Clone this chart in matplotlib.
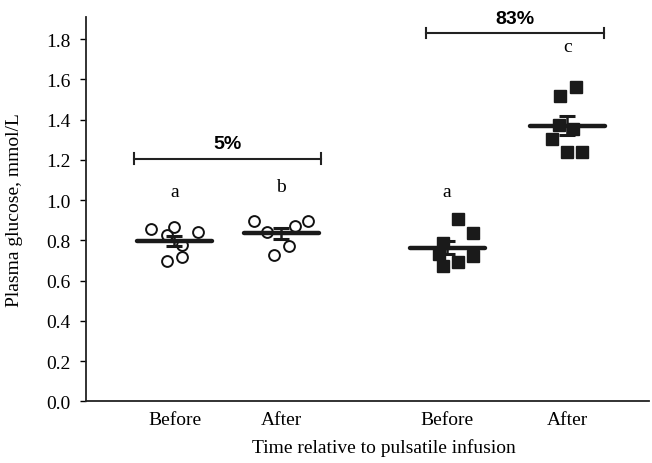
import numpy as np
import matplotlib.pyplot as plt

# plasma glucose (mmol/L) per animal, before/after pulsatile infusion
ctrl_before = [0.856, 0.866, 0.826, 0.841, 0.776, 0.697, 0.717]
ctrl_after = [0.894, 0.844, 0.869, 0.897, 0.773, 0.728]
glc_before = [0.905, 0.835, 0.785, 0.730, 0.720, 0.690, 0.675]
glc_after = [1.563, 1.518, 1.375, 1.355, 1.302, 1.240, 1.240]

groups = [ctrl_before, ctrl_after, glc_before, glc_after]
sems = [0.023, 0.026, 0.033, 0.048]
letters = ['a', 'b', 'a', 'c']
tick_labels = ['Before', 'After', 'Before', 'After']
pct_labels = ['5%', '83%']

# layout (x in axis units)
centers = [0.943, 2.08, 3.85, 5.13]
jitter = [
    [-0.25, 0.0, -0.08, 0.25, 0.08, -0.08, 0.08],
    [-0.29, -0.15, 0.15, 0.29, 0.08, -0.08],
    [0.12, 0.28, -0.04, -0.09, 0.28, 0.12, -0.04],
    [0.09, -0.08, -0.09, 0.06, -0.16, 0.0, 0.16],
]
letter_y = [1.045, 1.07, 1.045, 1.766]
brackets = [(0.51, 2.51, 1.207), (3.62, 5.52, 1.83)]

plt.rcParams['font.family'] = 'Liberation Serif'

fig = plt.figure(figsize=(6.52, 4.64), dpi=100)
ax = fig.add_axes([0.132, 0.133, 0.863, 0.828])

for i, (vals, c, jit) in enumerate(zip(groups, centers, jitter)):
    vals = np.array(vals)
    m = vals.mean()
    xs = c + np.array(jit)
    if i < 2:
        ax.plot(xs, vals, 'o', ms=7.8, mfc='none', mec='#111111', mew=1.4, zorder=3)
    else:
        ax.plot(xs, vals, 's', ms=8, mfc='#1a1a1a', mec='#1a1a1a', zorder=3)
    ax.plot([c - 0.40, c + 0.40], [m, m], color='#1a1a1a', lw=3.2,
            solid_capstyle='round', zorder=4)
    ax.errorbar(c, m, yerr=sems[i], color='#1a1a1a', elinewidth=1.8,
                capsize=6, capthick=2.2, zorder=4)
    ax.text(c, letter_y[i], letters[i], ha='center', va='center', fontsize=14)

for (x0, x1, y), lab in zip(brackets, pct_labels):
    ax.plot([x0, x1], [y, y], color='#222222', lw=1.5)
    ax.plot([x0, x0], [y - 0.025, y + 0.025], color='#222222', lw=1.5)
    ax.plot([x1, x1], [y - 0.025, y + 0.025], color='#222222', lw=1.5)
    ax.text((x0 + x1) / 2, y + 0.03, lab, ha='center', va='bottom',
            fontsize=14, fontweight='bold', family='Liberation Sans')

ax.set_xlim(0, 6)
ax.set_ylim(0, 1.91)
ax.set_yticks(np.arange(0, 1.81, 0.2))
ax.set_yticklabels([f'{v:.1f}' for v in np.arange(0, 1.81, 0.2)])
ax.set_xticks(centers)
ax.set_xticklabels(tick_labels)
ax.tick_params(axis='x', length=0, pad=7, labelsize=14)
ax.tick_params(axis='y', direction='out', length=4, width=1, pad=7, labelsize=14)
for s in ['top', 'right']:
    ax.spines[s].set_visible(False)
for s in ['left', 'bottom']:
    ax.spines[s].set_linewidth(1.3)
    ax.spines[s].set_color('#222222')

ax.set_ylabel('Plasma glucose, mmol/L', fontsize=14)
ax.set_xlabel('Time relative to pulsatile infusion', fontsize=14)
ax.yaxis.set_label_coords(-0.112, 0.5)
ax.xaxis.set_label_coords(0.53, -0.095)

fig.savefig('out.png', dpi=100)
